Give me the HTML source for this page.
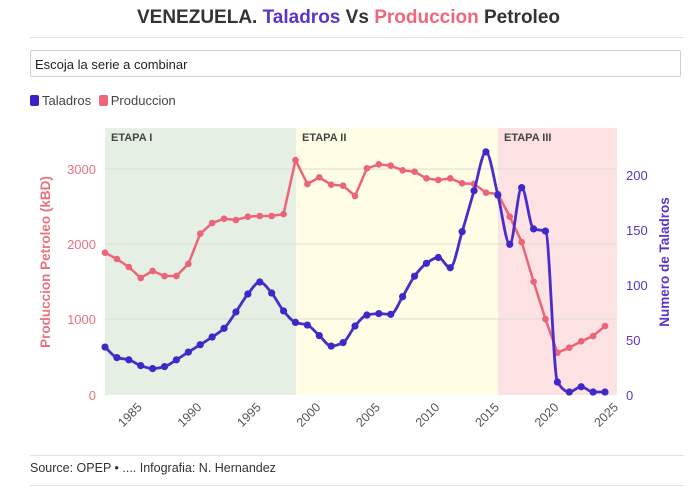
<!DOCTYPE html><html><head><meta charset="utf-8"><style>
body{margin:0;width:697px;height:491px;background:#fff;font-family:"Liberation Sans",sans-serif;overflow:hidden;position:relative}
.t{position:absolute;top:7px;left:0;width:697px;text-align:center;font-size:19px;font-weight:bold;color:#333}
.hr{position:absolute;left:30px;width:654px;height:1px;background:#e3e3e3}
.dd{position:absolute;left:30px;top:50px;width:651px;height:27px;border:1px solid #cfcfcf;border-radius:2px;font-size:13px;line-height:27px;padding-left:4px;box-sizing:border-box;color:#222}
.lg{position:absolute;top:93px;left:30px;font-size:13px;color:#444}
.sw{display:inline-block;width:9px;height:11px;border-radius:2px;vertical-align:-1px;margin-right:3px}
.src{position:absolute;left:30px;top:461px;font-size:12.5px;color:#333}
</style></head><body>
<div class="t">VENEZUELA. <span style="color:#5a35c8">Taladros</span> Vs <span style="color:#f0667a">Produccion</span> Petroleo</div>
<div class="hr" style="top:37px"></div>
<div class="dd">Escoja la serie a combinar</div>
<div class="lg"><span class="sw" style="background:#3a22c8"></span>Taladros <span class="sw" style="background:#f0667a;margin-left:4px"></span>Produccion</div>
<svg id="s" width="697" height="491" style="position:absolute;left:0;top:0" font-family="Liberation Sans, sans-serif"></svg>
<div class="hr" style="top:455px"></div>
<div class="src">Source: OPEP • .... Infografia: N. Hernandez</div>
<div class="hr" style="top:485px"></div>
<script>
const P=[1890,1806,1700,1554,1647,1580,1580,1740,2142,2284,2341,2324,2368,2377,2377,2403,3120,2802,2890,2793,2780,2643,3010,3063,3045,2984,2966,2877,2855,2877,2811,2804,2687,2670,2368,2032,1505,1009,562,628,713,783,916];
const T=[43.6,34,32,26.7,24,25.8,32,39,45.7,52.7,60.6,75.5,91.8,102.7,92.7,76.4,66,63.6,54,44.5,47.6,62.7,72.7,74,73.3,89.4,108,119.7,125,115.7,148.5,185.7,221,181.8,137,188.5,151,149,11.8,2.7,7.5,2.7,2.7];
const X=i=>105+i*11.905, YP=v=>395-v*0.0753, YT=v=>395-v*1.1;
let s='';
s+='<rect x="105" y="128" width="191" height="267" fill="#e6efe4"/><rect x="296" y="128" width="202" height="267" fill="#fffde6"/><rect x="498" y="128" width="119" height="267" fill="#fde2e3"/>';
[169,244,319].forEach(y=>s+=`<line x1="105" x2="617" y1="${y}" y2="${y}" stroke="#dcdcd0" stroke-width="1"/>`);
s+='<text x="111" y="141" font-size="11" font-weight="bold" fill="#444">ETAPA I</text><text x="302" y="141" font-size="11" font-weight="bold" fill="#444">ETAPA II</text><text x="504" y="141" font-size="11" font-weight="bold" fill="#444">ETAPA III</text>';
[[0,395],[1000,319],[2000,244],[3000,169]].forEach(([v,y])=>s+=`<text x="96" y="${y+5}" font-size="13" text-anchor="end" fill="#e8737f">${v}</text>`);
[0,50,100,150,200].forEach(v=>s+=`<text x="626" y="${YT(v)+5}" font-size="13" fill="#5a35c8">${v}</text>`);
s+='<text transform="translate(50,262) rotate(-90)" text-anchor="middle" font-size="13.5" font-weight="bold" fill="#e8737f">Produccion Petroleo (kBD)</text>';
s+='<text transform="translate(669,262) rotate(-90)" text-anchor="middle" font-size="13.5" font-weight="bold" fill="#5a35c8">Numero de Taladros</text>';
for(let y=1985;y<=2025;y+=5){const x=X(y-1982);s+=`<text transform="translate(${x+2},${408}) rotate(-45)" text-anchor="end" font-size="12.5" fill="#555">${y}</text>`;}
s+=`<polyline fill="none" stroke="#ec6478" stroke-width="2.5" points="${P.map((v,i)=>X(i)+','+YP(v)).join(' ')}"/>`;
P.forEach((v,i)=>s+=`<circle cx="${X(i)}" cy="${YP(v)}" r="3.3" fill="#ec6478"/>`);
// monotone cubic
const pts=T.map((v,i)=>[X(i),YT(v)]);const n=pts.length,h=11.905;
const dl=[];for(let i=0;i<n-1;i++)dl.push((pts[i+1][1]-pts[i][1])/h);
const m=[];m[0]=dl[0];m[n-1]=dl[n-2];
for(let i=1;i<n-1;i++){const a=dl[i-1],b=dl[i];m[i]=(a*b<=0)?0:(2*a*b/(a+b))*1;const lim=3*Math.min(Math.abs(a),Math.abs(b));if(Math.abs(m[i])>lim)m[i]=Math.sign(m[i])*lim;}
let d='M'+pts[0];
for(let i=0;i<n-1;i++){const p1=pts[i],p2=pts[i+1];d+=`C${p1[0]+h/3},${p1[1]+m[i]*h/3} ${p2[0]-h/3},${p2[1]-m[i+1]*h/3} ${p2[0]},${p2[1]}`;}
s+=`<path d="${d}" fill="none" stroke="#4a2ccb" stroke-width="2.8"/>`;
pts.forEach(p=>s+=`<circle cx="${p[0]}" cy="${p[1]}" r="3.6" fill="#3f28c8"/>`);
document.getElementById('s').innerHTML=s;
</script></body></html>
